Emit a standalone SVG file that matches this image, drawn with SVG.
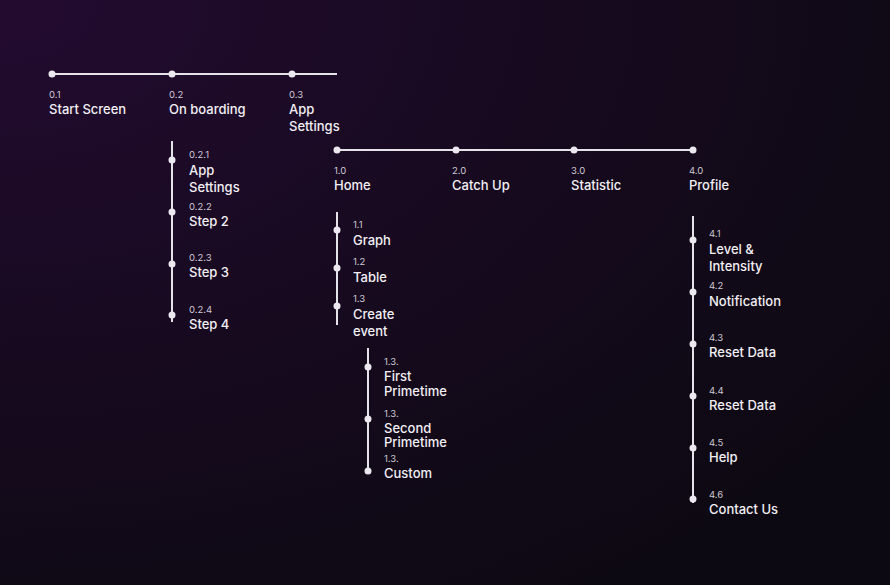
<svg xmlns="http://www.w3.org/2000/svg" width="890" height="585" viewBox="0 0 890 585">
<defs>
<radialGradient id="bg" cx="0" cy="0" r="1.2">
<stop offset="0" stop-color="#230b30"/>
<stop offset="0.6" stop-color="#150a1d"/>
<stop offset="1" stop-color="#0d0912"/>
</radialGradient>
<style>
.l{stroke:#e6e2ea;stroke-width:2;fill:none}
.d{fill:#ece8ef}
.n{font-family:Inter,"Liberation Sans",sans-serif;font-size:9.5px;fill:#cfc9d4}
.t{font-family:Inter,"Liberation Sans",sans-serif;font-size:13px;font-weight:500;fill:#f2eff4}
</style>
</defs>
<rect width="890" height="585" fill="url(#bg)"/>
<g id="connectors">
<path class="l" d="M52 74H337M172 141V322M337 150H696M337 212V325M368 348V474M693 216V503"/>
</g>
<g id="n0.1"><circle class="d" cx="52" cy="74" r="3.5"/><text class="n" x="49" y="98">0.1</text><text class="t" x="49" y="114">Start Screen</text></g>
<g id="n0.2"><circle class="d" cx="172" cy="74" r="3.5"/><text class="n" x="169" y="98">0.2</text><text class="t" x="169" y="114">On boarding</text></g>
<g id="n0.3"><circle class="d" cx="292" cy="74" r="3.5"/><text class="n" x="289" y="98">0.3</text><text class="t" x="289" y="114">App</text><text class="t" x="289" y="131">Settings</text></g>
<g id="n0.2.1"><circle class="d" cx="172" cy="160" r="3.5"/><text class="n" x="189" y="158">0.2.1</text><text class="t" x="189" y="175">App</text><text class="t" x="189" y="192">Settings</text></g>
<g id="n0.2.2"><circle class="d" cx="172" cy="212" r="3.5"/><text class="n" x="189" y="210">0.2.2</text><text class="t" x="189" y="226">Step 2</text></g>
<g id="n0.2.3"><circle class="d" cx="172" cy="264" r="3.5"/><text class="n" x="189" y="261">0.2.3</text><text class="t" x="189" y="277">Step 3</text></g>
<g id="n0.2.4"><circle class="d" cx="172" cy="315" r="3.5"/><text class="n" x="189" y="313">0.2.4</text><text class="t" x="189" y="329">Step 4</text></g>
<g id="n1.0"><circle class="d" cx="337" cy="150" r="3.5"/><text class="n" x="334" y="174">1.0</text><text class="t" x="334" y="190">Home</text></g>
<g id="n2.0"><circle class="d" cx="456" cy="150" r="3.5"/><text class="n" x="452" y="174">2.0</text><text class="t" x="452" y="190">Catch Up</text></g>
<g id="n3.0"><circle class="d" cx="574" cy="150" r="3.5"/><text class="n" x="571" y="174">3.0</text><text class="t" x="571" y="190">Statistic</text></g>
<g id="n4.0"><circle class="d" cx="693" cy="150" r="3.5"/><text class="n" x="689" y="174">4.0</text><text class="t" x="689" y="190">Profile</text></g>
<g id="n1.1"><circle class="d" cx="337" cy="230" r="3.5"/><text class="n" x="353" y="228">1.1</text><text class="t" x="353" y="245">Graph</text></g>
<g id="n1.2"><circle class="d" cx="337" cy="268" r="3.5"/><text class="n" x="353" y="265">1.2</text><text class="t" x="353" y="282">Table</text></g>
<g id="n1.3"><circle class="d" cx="337" cy="306" r="3.5"/><text class="n" x="353" y="302">1.3</text><text class="t" x="353" y="319">Create</text><text class="t" x="353" y="336">event</text></g>
<g id="n1.3.a"><circle class="d" cx="368" cy="367" r="3.5"/><text class="n" x="384" y="365">1.3.</text><text class="t" x="384" y="381">First</text><text class="t" x="384" y="396">Primetime</text></g>
<g id="n1.3.b"><circle class="d" cx="368" cy="419" r="3.5"/><text class="n" x="384" y="417">1.3.</text><text class="t" x="384" y="433">Second</text><text class="t" x="384" y="447">Primetime</text></g>
<g id="n1.3.c"><circle class="d" cx="368" cy="471" r="3.5"/><text class="n" x="384" y="462">1.3.</text><text class="t" x="384" y="478">Custom</text></g>
<g id="n4.1"><circle class="d" cx="693" cy="240" r="3.5"/><text class="n" x="709" y="237">4.1</text><text class="t" x="709" y="254">Level &amp;</text><text class="t" x="709" y="271">Intensity</text></g>
<g id="n4.2"><circle class="d" cx="693" cy="292" r="3.5"/><text class="n" x="709" y="289">4.2</text><text class="t" x="709" y="306">Notification</text></g>
<g id="n4.3"><circle class="d" cx="693" cy="344" r="3.5"/><text class="n" x="709" y="341">4.3</text><text class="t" x="709" y="357">Reset Data</text></g>
<g id="n4.4"><circle class="d" cx="693" cy="396" r="3.5"/><text class="n" x="709" y="394">4.4</text><text class="t" x="709" y="410">Reset Data</text></g>
<g id="n4.5"><circle class="d" cx="693" cy="448" r="3.5"/><text class="n" x="709" y="446">4.5</text><text class="t" x="709" y="462">Help</text></g>
<g id="n4.6"><circle class="d" cx="693" cy="499" r="3.5"/><text class="n" x="709" y="498">4.6</text><text class="t" x="709" y="514">Contact Us</text></g>
</svg>
